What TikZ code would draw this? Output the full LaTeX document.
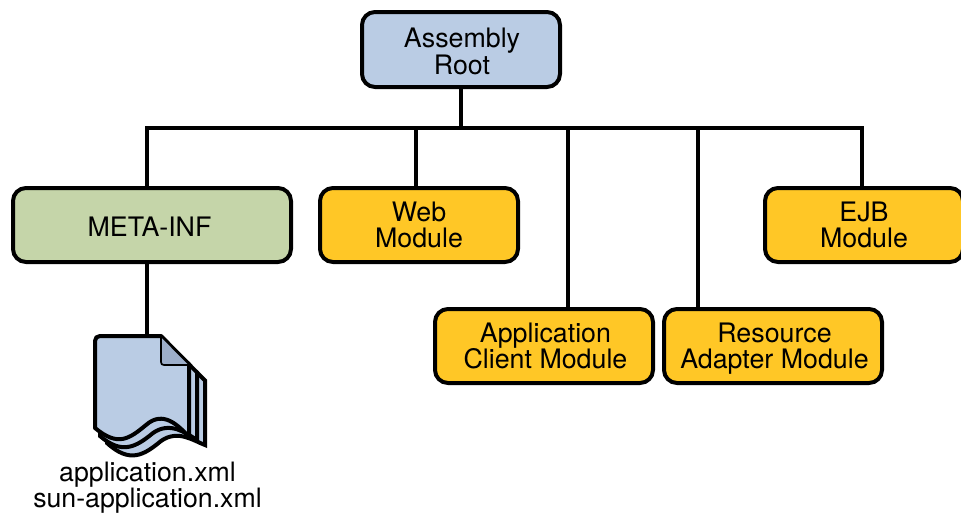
\documentclass[tikz,border=0pt]{standalone}
\usepackage{fontspec}
\setmainfont{TeX Gyre Heros}
\definecolor{rootblue}{HTML}{BACCE4}
\definecolor{metagreen}{HTML}{C5D5A9}
\definecolor{modyellow}{HTML}{FFC726}
\definecolor{foldblue}{HTML}{9DAEC9}
\newcommand{\lnstrut}{\rule[-6.5pt]{0pt}{32pt}}
\newcommand{\lowstrut}{\rule[-6.5pt]{0pt}{36pt}}
\AtBeginDocument{\lineskiplimit=-100pt\relax}
\tikzset{
  boxbase/.style={draw=black,line width=4pt,rounded corners=13pt,align=center,inner sep=0pt,
    font=\fontsize{26.8}{26}\selectfont,text=black},
  rootbox/.style={boxbase,fill=rootblue,minimum width=198pt,minimum height=75pt},
  metabox/.style={boxbase,fill=metagreen,minimum width=278pt,minimum height=74pt},
  modbox/.style={boxbase,fill=modyellow,minimum height=74pt},
  wire/.style={draw=black,line width=4pt},
  paper/.style={draw=black,line width=4pt,line join=miter,fill=rootblue},
  doclabel/.style={align=center,inner sep=0pt,font=\fontsize{26.7}{26}\selectfont}
}
\begin{document}
\begin{tikzpicture}[x=1pt,y=-1pt]
\useasboundingbox (0,0) rectangle (961,514);
\coordinate (busL) at (147,128);
\coordinate (busR) at (862,128);
\node[rootbox] (root) at (461,49.5) {\hspace*{2pt}\lowstrut Assembly\\[1.5pt]\hspace*{2pt}\lnstrut Root};
\node[metabox] (meta) at (152,225) {\lowstrut META-INF\hspace*{5pt}};
\node[modbox,minimum width=198pt] (web) at (419,225) {\lnstrut Web\\\lnstrut Module};
\node[modbox,minimum width=198pt] (ejb) at (864,225) {\lnstrut EJB\\\lnstrut Module};
\node[modbox,minimum width=218pt] (app) at (544,346) {\hspace*{3pt}\lnstrut Application\\\hspace*{3pt}\lnstrut Client Module};
\node[modbox,minimum width=218pt] (res) at (773,346) {\hspace*{3pt}\lnstrut Resource\\\hspace*{3pt}\lnstrut Adapter Module};
\coordinate (docTop) at (147,338);
\coordinate (busRoot) at (461,126);
\draw[wire] (root.south) -- (busRoot);
\draw[wire,line join=miter] (meta.north -| busL) -- (busL) -- (busR) -- (ejb.north -| busR);
\draw[wire] (416,128) -- (web.north -| 416,0);
\draw[wire] (568,128) -- (app.north -| 568,0);
\draw[wire] (698,128) -- (res.north -| 698,0);
\draw[wire] (meta.south -| 147,0) -- (docTop);
% stacked document
\draw[paper] (197,372.4) -- (205,380.5) -- (205,445) .. controls (194,441) and (178,429) .. (161,441)
  .. controls (144,455) and (130,464) .. (107,443) -- (107,430) -- cycle;
\draw[paper] (189,364.3) -- (197,372.4) -- (197,440) .. controls (186,433) and (170,421) .. (153,433)
  .. controls (136,447) and (122,455) .. (100,436) -- (100,425) -- cycle;
\draw[paper,line join=round] (100,336) -- (161,336) -- (189,364.3) -- (189,437)
  .. controls (178,425) and (163,410) .. (146,425)
  .. controls (129,439) and (118,447) .. (95,428) -- (95,341)
  .. controls (95,338) and (97,336) .. (100,336) -- cycle;
\draw[draw=black,line width=1.6pt,line join=round,fill=foldblue] (161,336) -- (161,362) .. controls (161,364) and (162,365) .. (164,365) -- (189,365) -- (189,364.3) -- cycle;
\node[doclabel,anchor=south] (files) at (147.5,514) {application.xml\\sun-application.xml};
\end{tikzpicture}
\end{document}
